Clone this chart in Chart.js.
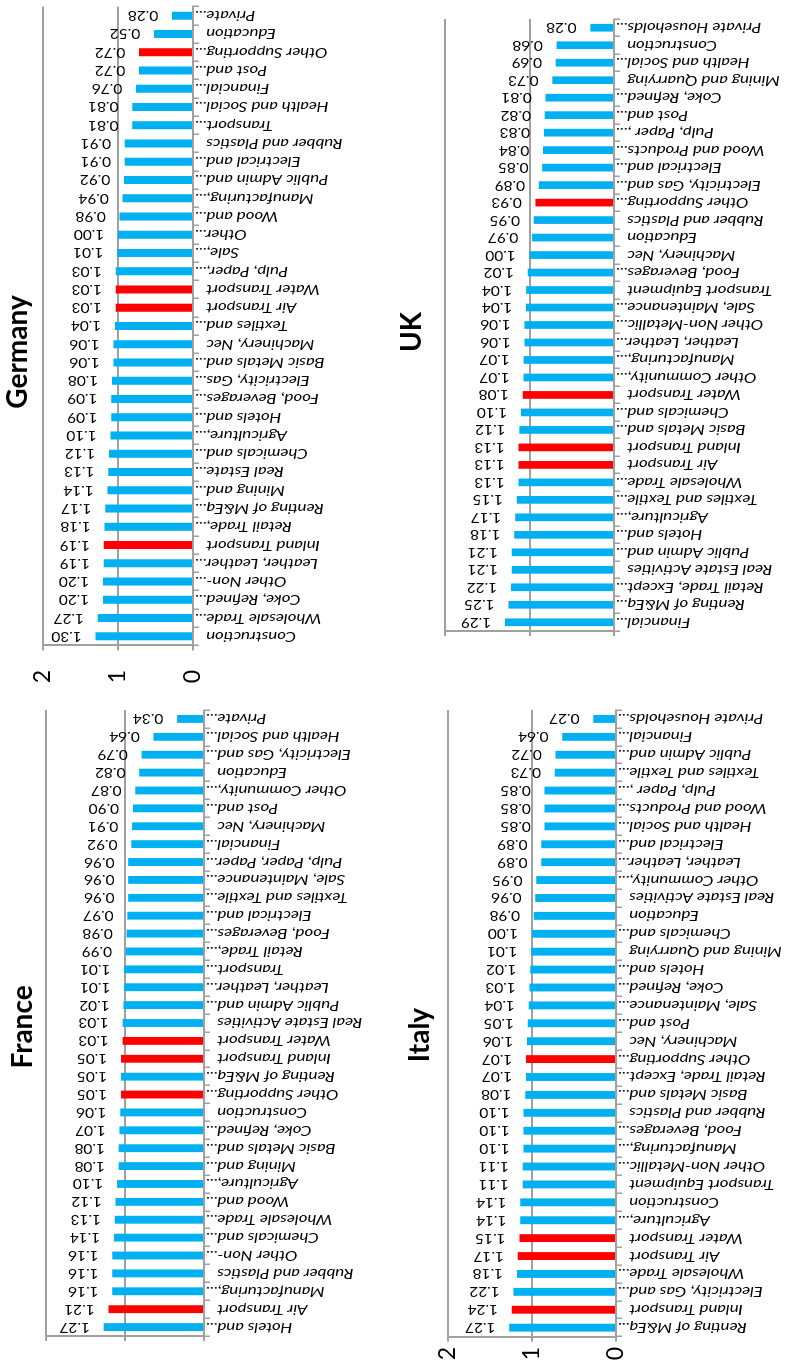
<!DOCTYPE html>
<html>
<head>
<meta charset="utf-8">
<script src="https://cdn.jsdelivr.net/npm/chart.js@4.4.1/dist/chart.umd.min.js"></script>
<style>
  html, body { margin: 0; padding: 0; background: #fff; overflow: hidden; width: 797px; height: 1366px; }
  /* the sheet is laid out landscape and turned a quarter turn to fit the portrait page */
  #sheet { position: absolute; left: 0; top: 0; width: 1366px; height: 797px;
           transform-origin: 0 0; transform: translate(0, 1366px) rotate(-90deg); }
  #sheet canvas { position: absolute; }
</style>
</head>
<body>
<div id="sheet">
  <canvas id="france"></canvas>
  <canvas id="germany"></canvas>
  <canvas id="italy"></canvas>
  <canvas id="uk"></canvas>
</div>
<script>
// ---- data ----------------------------------------------------------------
const franceSectors = ['Hotels and...', 'Air Transport', 'Manufacturing,...', 'Rubber and Plastics', 'Other Non-...',
  'Chemicals and...', 'Wholesale Trade...', 'Wood and...', 'Agriculture,...', 'Mining and...', 'Basic Metals and...',
  'Coke, Refined...', 'Construction', 'Other Supporting...', 'Renting of M&Eq...', 'Inland Transport',
  'Water Transport', 'Real Estate Activities', 'Public Admin and...', 'Leather, Leather...', 'Transport...',
  'Retail Trade,...', 'Food, Beverages...', 'Electrical and...', 'Textiles and Textile...', 'Sale, Maintenance...',
  'Pulp, Paper, Paper...', 'Financial...', 'Machinery, Nec', 'Post and...', 'Other Community,...', 'Education',
  'Electricity, Gas and...', 'Health and Social...', 'Private...'];
const franceValues = [1.27, 1.21, 1.16, 1.16, 1.16, 1.14, 1.13, 1.12, 1.10, 1.08, 1.08, 1.07, 1.06, 1.05, 1.05,
  1.05, 1.03, 1.03, 1.02, 1.01, 1.01, 0.99, 0.98, 0.97, 0.96, 0.96, 0.96, 0.92, 0.91, 0.90, 0.87, 0.82, 0.79,
  0.64, 0.34];

const germanySectors = ['Construction', 'Wholesale Trade...', 'Coke, Refined...', 'Other Non-...',
  'Leather, Leather...', 'Inland Transport', 'Retail Trade,...', 'Renting of M&Eq...', 'Mining and...',
  'Real Estate...', 'Chemicals and...', 'Agriculture,...', 'Hotels and...', 'Food, Beverages...',
  'Electricity, Gas...', 'Basic Metals and...', 'Machinery, Nec', 'Textiles and...', 'Air Transport',
  'Water Transport', 'Pulp, Paper,...', 'Sale,...', 'Other...', 'Wood and...', 'Manufacturing,...',
  'Public Admin and...', 'Electrical and...', 'Rubber and Plastics', 'Transport...', 'Health and Social...',
  'Financial...', 'Post and...', 'Other Supporting...', 'Education', 'Private...'];
const germanyValues = [1.30, 1.27, 1.20, 1.20, 1.19, 1.19, 1.18, 1.17, 1.14, 1.13, 1.12, 1.10, 1.09, 1.09, 1.08,
  1.06, 1.06, 1.04, 1.03, 1.03, 1.03, 1.01, 1.00, 0.98, 0.94, 0.92, 0.91, 0.91, 0.81, 0.81, 0.76, 0.72, 0.72,
  0.52, 0.28];

const italySectors = ['Renting of M&Eq...', 'Inland Transport', 'Electricity, Gas and...', 'Wholesale Trade...',
  'Air Transport', 'Water Transport', 'Agriculture,...', 'Construction', 'Transport Equipment',
  'Other Non-Metallic...', 'Manufacturing,...', 'Food, Beverages...', 'Rubber and Plastics', 'Basic Metals and...',
  'Retail Trade, Except...', 'Other Supporting...', 'Machinery, Nec', 'Post and...', 'Sale, Maintenance...',
  'Coke, Refined...', 'Hotels and...', 'Mining and Quarrying', 'Chemicals and...', 'Education',
  'Real Estate Activities', 'Other Community,...', 'Leather, Leather...', 'Electrical and...',
  'Health and Social...', 'Wood and Products...', 'Pulp, Paper ,...', 'Textiles and Textile...',
  'Public Admin and...', 'Financial...', 'Private Households...'];
const italyValues = [1.27, 1.24, 1.22, 1.18, 1.17, 1.15, 1.14, 1.14, 1.11, 1.11, 1.10, 1.10, 1.10, 1.08, 1.07,
  1.07, 1.06, 1.05, 1.04, 1.03, 1.02, 1.01, 1.00, 0.98, 0.96, 0.95, 0.89, 0.89, 0.85, 0.85, 0.85, 0.73, 0.72,
  0.64, 0.27];

const ukSectors = ['Financial...', 'Renting of M&Eq...', 'Retail Trade, Except...', 'Real Estate Activities',
  'Public Admin and...', 'Hotels and...', 'Agriculture,...', 'Textiles and Textile...', 'Wholesale Trade...',
  'Air Transport', 'Inland Transport', 'Basic Metals and...', 'Chemicals and...', 'Water Transport',
  'Other Community,...', 'Manufacturing,...', 'Leather, Leather...', 'Other Non-Metallic...',
  'Sale, Maintenance...', 'Transport Equipment', 'Food, Beverages...', 'Machinery, Nec', 'Education',
  'Rubber and Plastics', 'Other Supporting...', 'Electricity, Gas and...', 'Electrical and...',
  'Wood and Products...', 'Pulp, Paper ,...', 'Post and...', 'Coke, Refined...', 'Mining and Quarrying',
  'Health and Social...', 'Construction', 'Private Households...'];
const ukValues = [1.29, 1.25, 1.22, 1.21, 1.21, 1.18, 1.17, 1.15, 1.13, 1.13, 1.13, 1.12, 1.10, 1.08, 1.07, 1.07,
  1.06, 1.06, 1.04, 1.04, 1.02, 1.00, 0.97, 0.95, 0.93, 0.89, 0.85, 0.84, 0.83, 0.82, 0.81, 0.73, 0.69, 0.68,
  0.28];

// transport sectors are drawn in red
const transportSectors = ['Air Transport', 'Water Transport', 'Inland Transport', 'Other Supporting...'];
const valueAxisMin = 0;
const valueAxisMax = 2;
const valueAxisStep = 1;

// ---- styling ---------------------------------------------------------------
const BLUE = '#00B0F0';
const RED = '#FF0000';
const GRID = '#a0a0a0';
const NAME_STRETCH = 1.2;    // sector names are set slightly wide along their reading direction
const VALUE_STRETCH = 1.1;

Chart.defaults.font.family = 'Lato, "Open Sans", sans-serif';

function drawTurned(ctx, text, x, y, align, stretch) {
  ctx.save();
  ctx.translate(x, y);
  ctx.rotate(-Math.PI / 2);
  ctx.scale(stretch, 1);
  ctx.textAlign = align;
  ctx.textBaseline = 'middle';
  ctx.fillText(text, 0, 0);
  ctx.restore();
}

// value labels above the bars and sector names under the axis
const sectorLabels = {
  id: 'sectorLabels',
  afterDatasetsDraw(chart) {
    const ctx = chart.ctx;
    const xs = chart.scales.x, ys = chart.scales.y;
    const vals = chart.data.datasets[0].data;
    const meta = chart.getDatasetMeta(0);
    ctx.save();
    ctx.fillStyle = '#000';
    ctx.font = '14px Lato';
    meta.data.forEach((bar, i) => {
      drawTurned(ctx, vals[i].toFixed(2), bar.x, ys.getPixelForValue(vals[i]) - 29, 'center', VALUE_STRETCH);
    });
    ctx.font = 'italic 14px Lato';
    const base = ys.getPixelForValue(0);
    chart.data.labels.forEach((lab, i) => {
      const x = xs.getPixelForTick(i);
      const y = base + (lab.endsWith('...') ? 1.5 : 13);
      drawTurned(ctx, lab, x, y, 'right', NAME_STRETCH);
    });
    ctx.restore();
  }
};

// placement of each panel on the landscape sheet
const panels = [
  { id: 'france', title: 'France', sectors: franceSectors, values: franceValues,
    box: { left: 0, top: 0, height: 400, titleX: 339, titleY: 23,
           plotLeft: 30, plotRight: 656, plotTop: 46, plotBottom: 204, labelRight: 19 } },
  { id: 'germany', title: 'Germany', sectors: germanySectors, values: germanyValues,
    box: { left: 668, top: 0, height: 400, titleX: 1014, titleY: 17.5,
           plotLeft: 720.6, plotRight: 1359.4, plotTop: 43, plotBottom: 193, labelRight: 696 } },
  { id: 'italy', title: 'Italy', sectors: italySectors, values: italyValues,
    box: { left: 0, top: 390, height: 407, titleX: 331, titleY: 420,
           plotLeft: 29.4, plotRight: 656, plotTop: 448, plotBottom: 616, labelRight: 19 } },
  { id: 'uk', title: 'UK', sectors: ukSectors, values: ukValues,
    box: { left: 690, top: 390, height: 407, titleX: 1034, titleY: 412,
           plotLeft: 735, plotRight: 1347, plotTop: 445, plotBottom: 614, labelRight: 709 } }
];

function build(p) {
  const b = p.box;
  const cv = document.getElementById(p.id);
  const innerRight = b.plotRight - b.left;
  const W = Math.ceil(innerRight + 14);
  const H = b.height;
  cv.width = W; cv.height = H;
  cv.style.left = b.left + 'px'; cv.style.top = b.top + 'px';
  cv.style.width = W + 'px'; cv.style.height = H + 'px';
  const padL = 2 * (b.titleX - b.left) - innerRight;      // centres the title at titleX
  const yWidth = b.plotLeft - b.left - padL;
  const xHeight = b.top + H - b.plotBottom;
  const titleSize = 28;

  new Chart(cv, {
    type: 'bar',
    data: {
      labels: p.sectors,
      datasets: [{
        data: p.values,
        backgroundColor: p.sectors.map(s => transportSectors.includes(s) ? RED : BLUE),
        borderWidth: 0,
        barPercentage: 0.44,
        categoryPercentage: 1
      }]
    },
    options: {
      responsive: false,
      devicePixelRatio: 1,
      animation: false,
      layout: { padding: { left: padL, right: W - innerRight, top: 0, bottom: 0 } },
      plugins: {
        legend: { display: false },
        tooltip: { enabled: false },
        title: {
          display: true,
          text: p.title,
          color: '#000',
          font: { size: titleSize, weight: 'bold', lineHeight: 1 },
          padding: { top: b.titleY - b.top - titleSize / 2, bottom: b.plotTop - b.titleY - titleSize / 2 }
        }
      },
      scales: {
        x: {
          offset: true,
          grid: { offset: true, drawOnChartArea: false, tickLength: 6, color: GRID, lineWidth: 1.5 },
          border: { display: true, color: GRID, width: 2 },
          ticks: { display: false },
          afterFit(s) { s.height = xHeight; s.paddingLeft = 0; s.paddingRight = 0; }
        },
        y: {
          min: valueAxisMin,
          max: valueAxisMax,
          ticks: { stepSize: valueAxisStep, color: '#000', font: { size: 23 },
                   padding: b.plotLeft - 5 - b.labelRight },
          grid: { color: GRID, lineWidth: 2, tickLength: 5 },
          border: { display: true, color: GRID, width: 2 },
          afterFit(s) { s.width = yWidth; s.paddingTop = 0; s.paddingBottom = 0; }
        }
      }
    },
    plugins: [sectorLabels]
  });
}

panels.forEach(build);
</script>
</body>
</html>
